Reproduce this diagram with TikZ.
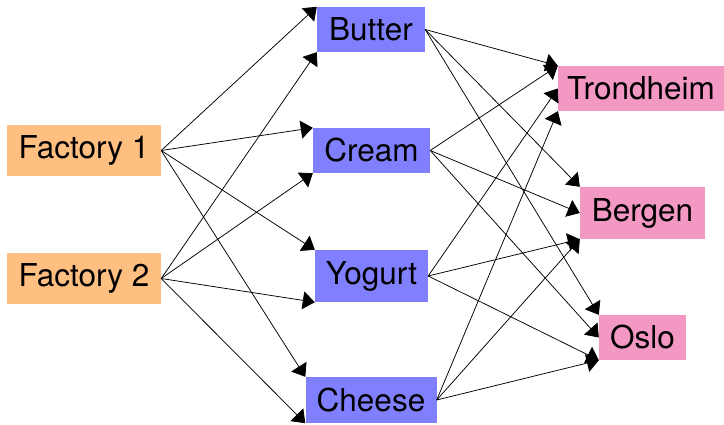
\documentclass[tikz,border=0pt]{standalone}
\usepackage{fontspec}
\setmainfont{TeX Gyre Heros}
\usetikzlibrary{arrows.meta}

\definecolor{factorycol}{RGB}{255,191,128}
\definecolor{productcol}{RGB}{128,128,255}
\definecolor{citycol}{RGB}{243,152,194}

\tikzset{
  box/.style={inner sep=0pt, font=\fontsize{31.5}{37}\selectfont, text=black},
  factory/.style={box, fill=factorycol},
  product/.style={box, fill=productcol},
  city/.style={box, fill=citycol},
  flow/.style={draw=black, line width=0.75pt, -{Triangle[length=12pt,width=18pt]}}
}

\begin{document}
\begin{tikzpicture}[x=1pt, y=1pt]
  \useasboundingbox (0,0) rectangle (724,424);

  % factories
  \node[factory, minimum width=154pt, minimum height=51pt] (f1) at (84,273.5) {Factory 1};
  \node[factory, minimum width=154pt, minimum height=51pt] (f2) at (84,145.5) {Factory 2};

  % products
  \node[product, minimum width=108pt, minimum height=45pt] (butter) at (371,394.5) {Butter};
  \node[product, minimum width=117pt, minimum height=45pt] (cream)  at (371.5,273.5) {Cream};
  \node[product, minimum width=113pt, minimum height=52pt] (yogurt) at (371.5,148) {Yogurt};
  \node[product, minimum width=131pt, minimum height=46pt] (cheese) at (371,24) {Cheese};

  % cities
  \node[city, minimum width=166pt, minimum height=45pt] (trondheim) at (641,335.5) {Trondheim};
  \node[city, minimum width=125pt, minimum height=52pt] (bergen)    at (642.5,211) {Bergen};
  \node[city, minimum width=87pt,  minimum height=45pt] (oslo)      at (642.5,86.5) {Oslo};

  % factories to products
  \draw[flow] (f1.east) -- (butter.north west);
  \draw[flow] (f1.east) -- (cream.north west);
  \draw[flow] (f1.east) -- (yogurt.north west);
  \draw[flow] (f1.east) -- (cheese.north west);
  \draw[flow] (f2.east) -- (butter.south west);
  \draw[flow] (f2.east) -- (cream.south west);
  \draw[flow] (f2.east) -- (yogurt.south west);
  \draw[flow] (f2.east) -- (cheese.south west);

  % products to cities
  \draw[flow] (butter.east) -- (trondheim.north west);
  \draw[flow] (butter.east) -- (bergen.north west);
  \draw[flow] (butter.east) -- (oslo.north west);
  \draw[flow] (cream.east)  -- (trondheim.north west);
  \draw[flow] (cream.east)  -- (bergen.west);
  \draw[flow] (cream.east)  -- (oslo.west);
  \draw[flow] (yogurt.east) -- (trondheim.west);
  \draw[flow] (yogurt.east) -- (bergen.south west);
  \draw[flow] (yogurt.east) -- (oslo.south west);
  \draw[flow] (cheese.east) -- (trondheim.south west);
  \draw[flow] (cheese.east) -- (bergen.south west);
  \draw[flow] (cheese.east) -- (oslo.south west);
\end{tikzpicture}
\end{document}
